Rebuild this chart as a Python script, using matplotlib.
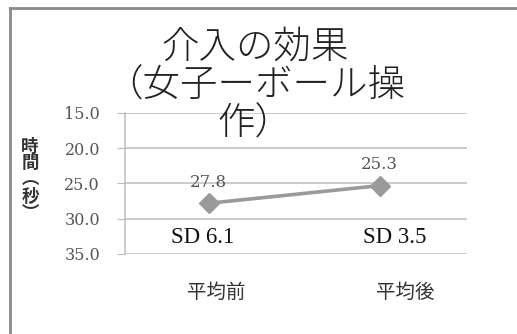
import matplotlib
matplotlib.use("Agg")
import matplotlib.pyplot as plt
import matplotlib.transforms as mtransforms
from matplotlib.lines import Line2D

# data
categories = ["平均前", "平均後"]
means = [27.8, 25.3]
sd_labels = ["SD 6.1", "SD 3.5"]
y_ticks = [15.0, 20.0, 25.0, 30.0, 35.0]

title = "介入の効果\n（女子ーボール操\n作）"
ylabel = "時\n間\n︵\n秒\n︶"

plt.rcParams['font.family'] = ['Noto Sans CJK JP', 'DejaVu Sans']

W, H = 517, 334
fig = plt.figure(figsize=(W / 100, H / 100), dpi=100)
fig.patch.set_facecolor("white")

ax = fig.add_axes([125 / W, 1 - 254 / H, (467 - 125) / W, (254 - 113) / H])
x = list(range(len(categories)))

ax.plot(x, means, color="#9a9a9a", lw=2.6, marker="D", ms=10,
        mfc="#9a9a9a", mec="#9a9a9a", zorder=3)

ax.set_xlim(-0.49, 1.51)
ax.set_ylim(35, 15)
ax.set_yticks(y_ticks)
ax.set_yticklabels([f"{v:.1f}" for v in y_ticks], family="DejaVu Serif",
                   fontsize=11.5, color="#555555")
ax.yaxis.grid(True, color="#bdbdbd", lw=1.1)
ax.set_axisbelow(True)

for s in ["top", "right", "bottom"]:
    ax.spines[s].set_visible(False)
ax.spines["left"].set_color("#bdbdbd")
ax.spines["left"].set_linewidth(1.1)
ax.tick_params(axis="y", length=6, color="#bdbdbd", pad=12)

ax.set_xticks(x)
ax.set_xticklabels(categories, fontsize=14, color="#333333")
ax.tick_params(axis="x", length=0, pad=20)
shifts = [7, 25]
for lab, dx in zip(ax.get_xticklabels(), shifts):
    lab.set_transform(lab.get_transform() +
                      mtransforms.ScaledTranslation(dx / 100, 0, fig.dpi_scale_trans))

# value labels
for xi, v in zip(x, means):
    ax.annotate(f"{v:.1f}", (xi, v), xytext=(0, 21), textcoords="offset pixels",
                ha="center", va="center", family="DejaVu Serif", fontsize=12,
                color="#555555")

# SD notes
sd_x = [-0.035, 1.088]
for sx, s in zip(sd_x, sd_labels):
    ax.text(sx, 32.6, s, ha="center", va="center", family="Liberation Serif",
            fontsize=16.5, color="#111111")

# y label, stacked vertically
fig.text(30 / W, 1 - 180 / H, ylabel, ha="center", va="center",
         fontsize=12.5, fontweight="bold", color="#333333", linespacing=0.9)

# title
fig.text(255 / W, 1 - 27 / H, title, ha="center", va="top", fontsize=27,
         fontweight="light", color="#222222", linespacing=0.97,
         multialignment="center")

# chart frame (left and top edges)
fig.add_artist(Line2D([10 / W, 10 / W], [0, 1 - 8 / H], transform=fig.transFigure,
                      color="#8a8a8a", lw=2))
fig.add_artist(Line2D([10 / W, 1], [1 - 8 / H, 1 - 8 / H], transform=fig.transFigure,
                      color="#8a8a8a", lw=2))

fig.savefig("out.png", dpi=100)
